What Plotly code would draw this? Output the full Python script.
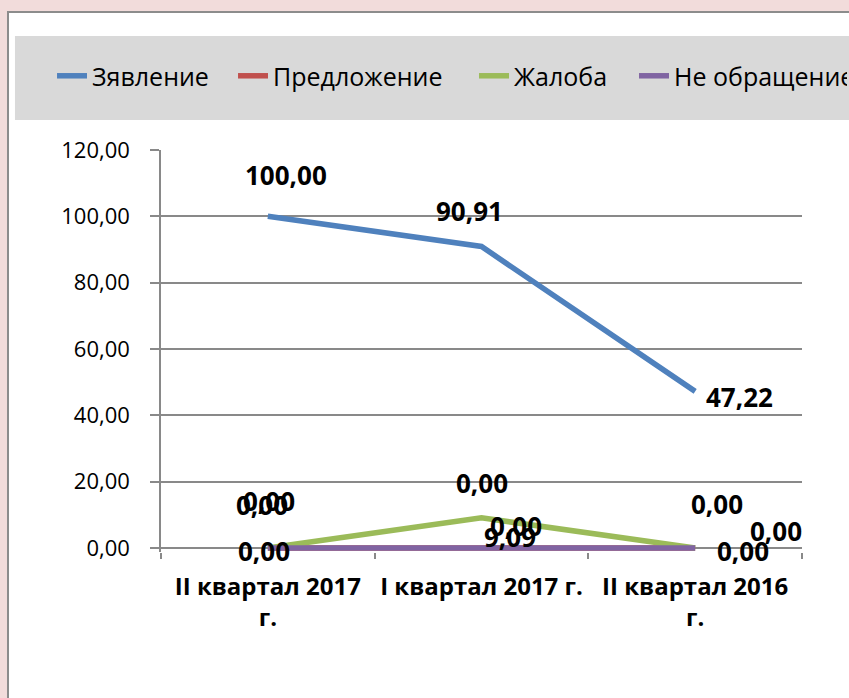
import plotly.graph_objects as go

# ---- data ----
categories = ["II квартал 2017 г.", "I квартал 2017 г.", "II квартал 2016 г."]
tick_labels = ["II квартал 2017<br>г.", "I квартал 2017 г.", "II квартал 2016<br>г."]
series_names = ["Зявление", "Предложение", "Жалоба", "Не обращение"]
zayavlenie = [100.00, 90.91, 47.22]
predlozhenie = [0.00, 0.00, 0.00]
zhaloba = [0.00, 9.09, 0.00]
ne_obrashchenie = [0.00, 0.00, 0.00]
y_ticks = [0, 20, 40, 60, 80, 100, 120]

series_values = [zayavlenie, predlozhenie, zhaloba, ne_obrashchenie]
colors = ["#4F81BD", "#C0504D", "#9BBB59", "#8064A2"]
legend_widths = [136, 196, 115, 168]

# label offsets in pixels (xshift, yshift) per series / category
label_offsets = [
    [(18, 41), (-12, 35), (44, -6)],
    [(-6, 43), (0, 65), (22, 44)],
    [(1, 47), (28, -19), (81, 17)],
    [(-4, -3), (34, 22), (48, -3)],
]

FONT = "Open Sans"
GRID = "#898989"

fig = go.Figure()
for name, vals, col, lw in zip(series_names, series_values, colors, legend_widths):
    fig.add_trace(go.Scatter(
        x=categories, y=vals, name=name, mode="lines",
        line=dict(color=col, width=5.5), legendwidth=lw,
        hoverinfo="skip",
    ))

annotations = []
for vals, offs in zip(series_values, label_offsets):
    for cat, v, (dx, dy) in zip(categories, vals, offs):
        annotations.append(dict(
            x=cat, y=v, xref="x", yref="y", text=f"{v:.2f}".replace(".", ","),
            showarrow=False, xshift=dx, yshift=dy, xanchor="center", yanchor="middle",
            font=dict(family=FONT, size=26, color="#000000", weight="bold"),
        ))

# paper coords: plot area spans x 161..802 px, y 150..552 px
shapes = [
    dict(type="rect", xref="paper", yref="paper", x0=-0.2387, x1=1.3, y0=-0.6, y1=1.3433,
         fillcolor="#FFFFFF", line=dict(color="#8C8C8C", width=2), layer="below"),
    dict(type="rect", xref="paper", yref="paper", x0=-0.2278, x1=1.3, y0=1.0746, y1=1.2836,
         fillcolor="#D9D9D9", line=dict(width=0), layer="below"),
]

fig.update_layout(
    width=849, height=698,
    margin=dict(l=161, r=47, t=150, b=146, autoexpand=False),
    paper_bgcolor="#F2DCDB",
    plot_bgcolor="rgba(0,0,0,0)",
    separators=", ",
    showlegend=True,
    legend=dict(orientation="h", x=-0.170, y=1.184, xanchor="left", yanchor="middle",
                bgcolor="rgba(0,0,0,0)", font=dict(family=FONT, size=25, color="#000000"),
                itemclick=False, itemdoubleclick=False),
    shapes=shapes,
    annotations=annotations,
    xaxis=dict(
        type="category", tickmode="array", tickvals=categories, ticktext=tick_labels,
        range=[-0.5, 2.5], autorange=False,
        tickson="boundaries", ticks="outside", ticklen=6, tickcolor=GRID, tickwidth=1.5,
        showline=False, showgrid=False,
        tickfont=dict(family=FONT, size=24, color="#000000", weight="bold"),
        ticklabelstandoff=18,
    ),
    yaxis=dict(
        range=[-1.2, 120], autorange=False, tickmode="array", tickvals=y_ticks, tickformat=".2f",
        ticks="outside", ticklen=9, tickcolor=GRID, tickwidth=1.5,
        showline=True, linecolor=GRID, linewidth=1.5,
        showgrid=True, gridcolor=GRID, gridwidth=1.5,
        zeroline=True, zerolinecolor=GRID, zerolinewidth=1.5,
        tickfont=dict(family=FONT, size=22, color="#000000"),
        ticklabelstandoff=16,
    ),
)

fig.write_html("out.html", config={"displayModeBar": False},
               post_script="document.body.style.margin='0';document.body.style.overflow='hidden';")
